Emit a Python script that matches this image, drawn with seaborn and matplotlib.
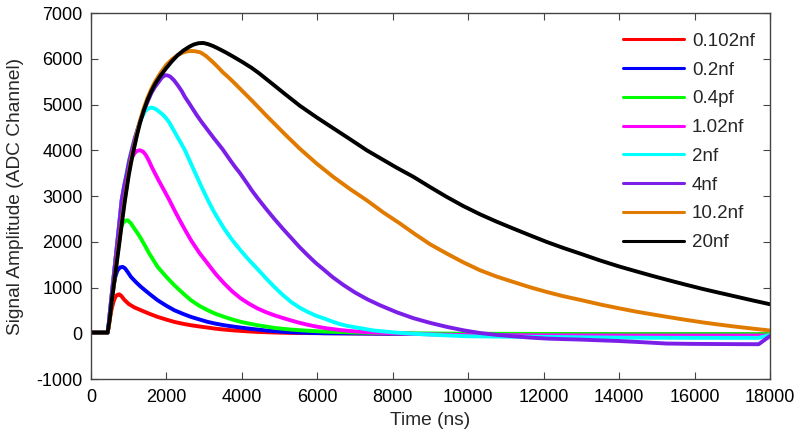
import matplotlib
matplotlib.use("Agg")
import matplotlib.pyplot as plt
import pandas as pd
import seaborn as sns

# Capacitance labels and line colours
labels = ["0.102nf", "0.2nf", "0.4pf", "1.02nf", "2nf", "4nf", "10.2nf", "20nf"]
colors = ["#ff0000", "#0000ff", "#00ff00", "#ff00ff", "#00ffff", "#7b1fe8", "#e07b00", "#000000"]

# Pulse shapes (time in ns, amplitude in ADC channels)
red_t = [0, 440, 470, 500, 550, 600, 650, 700, 750, 800, 884, 1000, 1150, 1325, 1550, 1767, 2000, 2209, 2450, 2651, 2900, 3093, 3300, 3535, 3750, 3977, 4200, 4419, 4850, 5302, 6000, 7000, 8000, 10000, 14000, 18000]
red_v = [15, 15, 150, 330, 540, 700, 800, 840, 850, 820, 730, 640, 565, 503, 425, 357, 298, 248, 205, 175, 145, 124, 100, 80, 64, 51, 39, 29, 16, 7, 2, -3, -10, -20, -30, -30]

blue_t = [0, 440, 470, 500, 550, 600, 650, 700, 770, 840, 900, 980, 1060, 1200, 1325, 1550, 1767, 2000, 2209, 2450, 2651, 2900, 3093, 3300, 3535, 3750, 3977, 4200, 4419, 4650, 4860, 5302, 5700, 6186, 7000, 8000, 10000, 14000, 18000]
blue_v = [15, 15, 170, 420, 760, 1050, 1250, 1370, 1440, 1450, 1420, 1330, 1231, 1110, 1013, 860, 721, 600, 503, 420, 357, 295, 248, 210, 175, 148, 124, 100, 80, 60, 44, 22, 10, 0, -5, -10, -20, -30, -30]

green_t = [0, 440, 470, 500, 550, 600, 650, 700, 750, 800, 850, 900, 972, 1060, 1149, 1240, 1325, 1440, 1546, 1660, 1767, 2000, 2209, 2430, 2651, 2870, 3093, 3300, 3535, 3750, 3977, 4200, 4419, 4650, 4860, 5302, 5744, 6186, 7000, 8000, 10000, 14000, 18000]
green_v = [15, 15, 200, 450, 850, 1230, 1600, 1920, 2150, 2320, 2410, 2455, 2470, 2400, 2288, 2180, 2069, 1900, 1741, 1590, 1450, 1230, 1049, 880, 721, 600, 503, 425, 357, 300, 248, 210, 175, 145, 117, 80, 55, 36, 15, 0, -10, -20, -20]

magenta_t = [0, 440, 470, 500, 550, 600, 650, 700, 750, 813, 880, 950, 1010, 1080, 1200, 1300, 1380, 1450, 1530, 1610, 1700, 1800, 1940, 2080, 2230, 2386, 2520, 2651, 2870, 3093, 3310, 3535, 3750, 3977, 4200, 4419, 4640, 4860, 5080, 5302, 5520, 5744, 5960, 6186, 6600, 7000, 7500, 8000, 9000, 10000, 12000, 14000, 18000]
magenta_v = [15, 15, 200, 450, 850, 1230, 1620, 2010, 2400, 2907, 3200, 3450, 3650, 3850, 3980, 4000, 3970, 3900, 3780, 3635, 3490, 3330, 3120, 2907, 2660, 2420, 2220, 2033, 1760, 1523, 1290, 1086, 910, 758, 640, 540, 460, 393, 335, 280, 230, 185, 148, 115, 70, 40, 15, 0, -25, -40, -45, -50, -50]

cyan_t = [0, 440, 470, 500, 550, 600, 650, 700, 750, 813, 880, 950, 1010, 1080, 1160, 1250, 1340, 1432, 1520, 1610, 1680, 1750, 1820, 1900, 1970, 2050, 2150, 2250, 2370, 2490, 2600, 2700, 2820, 2930, 3093, 3230, 3370, 3535, 3750, 3977, 4200, 4419, 4640, 4860, 5080, 5302, 5520, 5744, 5960, 6186, 6400, 6600, 6800, 7000, 7500, 8000, 8500, 9000, 9500, 10000, 11000, 12000, 13000, 14000, 15000, 16000, 17000, 17700, 18000]
cyan_v = [15, 15, 200, 450, 850, 1230, 1620, 2010, 2400, 2907, 3230, 3520, 3780, 4000, 4250, 4500, 4700, 4850, 4915, 4933, 4915, 4880, 4835, 4780, 4720, 4640, 4500, 4350, 4180, 4000, 3800, 3615, 3400, 3200, 2920, 2700, 2500, 2280, 2030, 1800, 1590, 1400, 1200, 1013, 840, 685, 565, 466, 385, 321, 255, 200, 160, 130, 60, 20, -10, -30, -50, -66, -75, -80, -88, -95, -98, -100, -100, -100, -40]

purple_t = [0, 440, 470, 500, 550, 600, 650, 700, 750, 813, 880, 950, 1010, 1080, 1160, 1250, 1340, 1432, 1520, 1600, 1700, 1800, 1880, 1962, 2030, 2100, 2200, 2300, 2400, 2490, 2600, 2700, 2810, 2930, 3040, 3150, 3260, 3370, 3490, 3600, 3710, 3820, 3940, 4050, 4160, 4260, 4420, 4640, 4860, 5080, 5300, 5520, 5744, 5960, 6186, 6400, 6700, 7000, 7330, 7662, 8100, 8545, 9000, 9430, 9870, 10313, 10750, 11196, 11640, 12080, 12520, 12964, 13500, 14000, 14600, 15262, 15900, 16500, 17100, 17700, 18000]
purple_v = [15, 15, 200, 450, 850, 1230, 1620, 2010, 2400, 2907, 3220, 3500, 3760, 4000, 4260, 4500, 4730, 4933, 5100, 5250, 5390, 5500, 5590, 5640, 5635, 5610, 5530, 5420, 5300, 5165, 5030, 4900, 4760, 4620, 4500, 4380, 4260, 4146, 4020, 3890, 3760, 3635, 3510, 3380, 3250, 3126, 2950, 2720, 2500, 2290, 2090, 1890, 1705, 1535, 1380, 1230, 1050, 890, 740, 612, 460, 330, 225, 140, 65, 5, -35, -66, -95, -116, -128, -138, -155, -170, -195, -225, -232, -235, -238, -240, -60]

orange_t = [0, 440, 470, 500, 550, 600, 650, 700, 750, 800, 880, 940, 1000, 1060, 1130, 1210, 1300, 1400, 1500, 1600, 1700, 1850, 2000, 2150, 2300, 2450, 2600, 2750, 2900, 3050, 3200, 3350, 3500, 3650, 3800, 4030, 4260, 4460, 4657, 4900, 5140, 5341, 5541, 5980, 6424, 6870, 7309, 7750, 8192, 8600, 9000, 9430, 9870, 10313, 10750, 11196, 11640, 12080, 12520, 12964, 13494, 14000, 14467, 14900, 15262, 15750, 16234, 16600, 17030, 17500, 18000]
orange_v = [15, 15, 130, 300, 650, 1000, 1350, 1700, 2030, 2350, 2850, 3180, 3500, 3780, 4050, 4350, 4650, 4920, 5150, 5340, 5500, 5700, 5870, 5990, 6080, 6140, 6170, 6165, 6140, 6060, 5950, 5830, 5700, 5590, 5470, 5280, 5090, 4920, 4750, 4550, 4350, 4190, 4030, 3710, 3417, 3150, 2907, 2640, 2398, 2160, 1940, 1742, 1550, 1377, 1240, 1121, 1005, 903, 810, 730, 630, 545, 470, 410, 360, 295, 235, 195, 150, 105, 60]

black_t = [0, 440, 500, 550, 600, 650, 700, 750, 820, 900, 1000, 1060, 1130, 1210, 1300, 1400, 1500, 1600, 1700, 1850, 2000, 2150, 2300, 2450, 2600, 2720, 2850, 2980, 3100, 3230, 3370, 3570, 3773, 4020, 4260, 4460, 4657, 4900, 5140, 5341, 5541, 5980, 6424, 6870, 7309, 7662, 8100, 8545, 9000, 9430, 9870, 10313, 10750, 11196, 11640, 12080, 12520, 12964, 13500, 14000, 14467, 14900, 15262, 15750, 16234, 16600, 17000, 17500, 18000]
black_v = [15, 15, 330, 700, 1020, 1330, 1650, 1960, 2420, 2907, 3450, 3720, 4000, 4300, 4600, 4870, 5100, 5290, 5450, 5640, 5800, 5950, 6080, 6180, 6260, 6310, 6340, 6345, 6320, 6280, 6225, 6140, 6045, 5925, 5800, 5680, 5550, 5390, 5230, 5100, 4970, 4720, 4480, 4240, 4000, 3830, 3620, 3420, 3190, 2980, 2780, 2600, 2440, 2288, 2140, 1996, 1865, 1742, 1590, 1460, 1350, 1250, 1170, 1065, 965, 895, 820, 725, 634]

series = [(red_t, red_v), (blue_t, blue_v), (green_t, green_v), (magenta_t, magenta_v),
          (cyan_t, cyan_v), (purple_t, purple_v), (orange_t, orange_v), (black_t, black_v)]

frames = []
for lab, (t, v) in zip(labels, series):
    frames.append(pd.DataFrame({"t": t, "v": v, "cap": lab}))
df = pd.concat(frames, ignore_index=True)

sns.set_style("ticks", {"xtick.direction": "in", "ytick.direction": "in"})
plt.rcParams["font.family"] = ["Liberation Sans", "DejaVu Sans"]
plt.rcParams["axes.unicode_minus"] = False

fig = plt.figure(figsize=(8, 4.34), dpi=100)
ax = fig.add_axes([91 / 800, 1 - 379 / 434, 679 / 800, 366 / 434])

sns.lineplot(data=df, x="t", y="v", hue="cap", hue_order=labels,
             palette=dict(zip(labels, colors)), sort=False, estimator=None,
             lw=2.8, ax=ax)

ax.set_xlim(0, 18000)
ax.set_ylim(-1000, 7000)
ax.set_xticks(range(0, 18001, 2000))
ax.set_yticks(range(-1000, 7001, 1000))
ax.tick_params(direction="in", top=True, right=True, length=5, width=0.8,
               color="#444444", labelcolor="black", labelsize=13)
ax.tick_params(axis="x", pad=7)
ax.tick_params(axis="y", pad=6)
for sp in ax.spines.values():
    sp.set_color("#444444")
    sp.set_linewidth(1.0)

ax.set_xlabel("Time (ns)", fontsize=13.8)
ax.set_ylabel("Signal Amplitude (ADC Channel)", fontsize=13.8)
ax.xaxis.set_label_coords(0.499, -0.090)
ax.yaxis.set_label_coords(-0.098, 0.5)

handles, labs = ax.get_legend_handles_labels()
leg = ax.legend(handles, labs, loc="upper left", bbox_to_anchor=(0.7835, 0.946),
                frameon=False, fontsize=13.5, handlelength=3.25, handletextpad=0.43,
                labelspacing=0.62, borderpad=0, borderaxespad=0)
for ln in leg.get_lines():
    ln.set_linewidth(2.2)

fig.savefig("out.png", dpi=100)
